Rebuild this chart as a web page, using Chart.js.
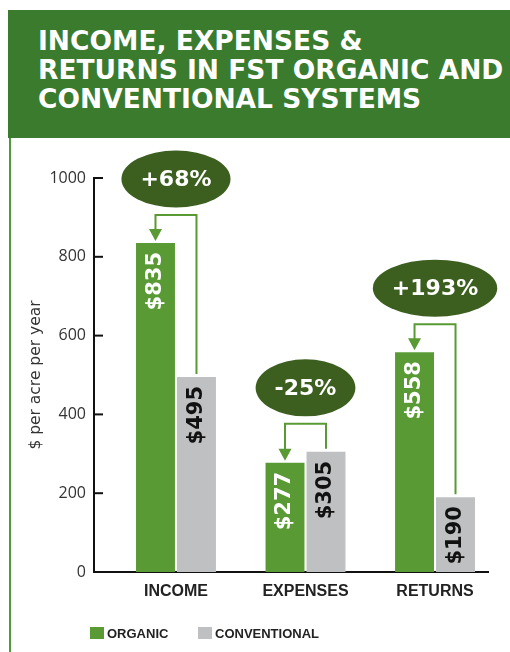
<!DOCTYPE html>
<html>
<head>
<meta charset="utf-8">
<script src="https://cdn.jsdelivr.net/npm/chart.js@4.4.1/dist/chart.umd.min.js"></script>
<style>
  html, body { margin: 0; padding: 0; background: #fff; }
  body { width: 510px; height: 652px; position: relative; overflow: hidden; }
  #header {
    position: absolute; left: 8px; top: 10px; width: 502px; height: 128px;
    background: #3a7b2e; color: #fff; z-index: 2; box-sizing: border-box;
    padding: 16px 0 0 30px;
    font: bold 26.5px "DejaVu Sans", sans-serif; line-height: 29px;
  }
  #edge { position: absolute; left: 9px; top: 138px; width: 2px; height: 514px; background: #4f9a3c; z-index: 2; }
  #wrap { position: absolute; left: 0; top: 0; width: 510px; height: 652px; }
  .legend { position: absolute; top: 626px; height: 16px; z-index: 2;
    font: bold 13px "Liberation Sans", Arial, sans-serif; color: #222; line-height: 16px; }
  .legend i { display: inline-block; width: 14px; height: 12px; vertical-align: -1px; margin-right: 3px; }
</style>
</head>
<body>
<div id="header">INCOME, EXPENSES &amp;<br>RETURNS IN FST ORGANIC AND<br>CONVENTIONAL SYSTEMS</div>
<div id="edge"></div>
<div class="legend" style="left:90px"><i style="background:#5a9a34"></i>ORGANIC</div>
<div class="legend" style="left:198px"><i style="background:#bfc0c2"></i>CONVENTIONAL</div>
<div id="wrap"><canvas id="chart"></canvas></div>
<script>
// ─── Data ─────────────────────────────────────────
const categories = ['INCOME', 'EXPENSES', 'RETURNS'];
const organic = [835, 277, 558];
const conventional = [495, 305, 190];
const changeLabels = ['+68%', '-25%', '+193%'];
const yTicks = [0, 200, 400, 600, 800, 1000];

const GREEN = '#5a9a34';
const GRAY = '#bfc0c2';
const DARK = '#3c5f20';

// ─── Labels, brackets, bubbles ────────────────────
const decorations = {
  id: 'decorations',
  afterDatasetsDraw(chart) {
    const ctx = chart.ctx;
    const area = chart.chartArea;
    const y = chart.scales.y;

    // inward tick marks on the y axis
    ctx.save();
    ctx.strokeStyle = '#111';
    ctx.lineWidth = 2;
    y.ticks.forEach(t => {
      const py = y.getPixelForValue(t.value);
      ctx.beginPath();
      ctx.moveTo(area.left, py);
      ctx.lineTo(area.left + 9, py);
      ctx.stroke();
    });
    ctx.restore();

    // rotated value labels inside bars
    chart.data.datasets.forEach((ds, di) => {
      const meta = chart.getDatasetMeta(di);
      meta.data.forEach((bar, i) => {
        ctx.save();
        ctx.translate(bar.x, bar.y + 9);
        ctx.rotate(-Math.PI / 2);
        ctx.font = 'bold 21px "DejaVu Sans", sans-serif';
        ctx.fillStyle = di === 0 ? '#fff' : '#111';
        ctx.textAlign = 'right';
        ctx.textBaseline = 'middle';
        ctx.fillText('$' + ds.data[i].y, 0, 0);
        ctx.restore();
      });
    });

    // brackets with arrows and change bubbles
    const orgMeta = chart.getDatasetMeta(0);
    const conMeta = chart.getDatasetMeta(1);
    categories.forEach((c, i) => {
      const o = orgMeta.data[i];
      const k = conMeta.data[i];
      const level = Math.min(o.y, k.y) - 28;

      ctx.save();
      ctx.strokeStyle = GREEN;
      ctx.fillStyle = GREEN;
      ctx.lineWidth = 2;
      ctx.beginPath();
      ctx.moveTo(k.x, k.y - 3);
      ctx.lineTo(k.x, level);
      ctx.lineTo(o.x, level);
      ctx.lineTo(o.x, o.y - 13);
      ctx.stroke();
      ctx.beginPath();
      ctx.moveTo(o.x - 6.5, o.y - 14);
      ctx.lineTo(o.x + 6.5, o.y - 14);
      ctx.lineTo(o.x, o.y - 2);
      ctx.closePath();
      ctx.fill();

      ctx.font = 'bold 22px "DejaVu Sans", sans-serif';
      const tw = ctx.measureText(changeLabels[i]).width;
      const cx = (o.x + k.x) / 2;
      const cy = level - 36;
      ctx.fillStyle = DARK;
      ctx.beginPath();
      ctx.ellipse(cx, cy, tw / 2 + 19, 28.5, 0, 0, Math.PI * 2);
      ctx.fill();
      ctx.fillStyle = '#fff';
      ctx.textAlign = 'center';
      ctx.textBaseline = 'middle';
      ctx.fillText(changeLabels[i], cx, cy + 1);
      ctx.restore();
    });
  }
};

new Chart(document.getElementById('chart'), {
  type: 'bar',
  data: {
    datasets: [
      {
        label: 'ORGANIC',
        data: categories.map((c, i) => ({ x: i, y: organic[i] })),
        backgroundColor: GREEN,
        categoryPercentage: 0.633,
        barPercentage: 0.95,
      },
      {
        label: 'CONVENTIONAL',
        data: categories.map((c, i) => ({ x: i, y: conventional[i] })),
        backgroundColor: GRAY,
        categoryPercentage: 0.633,
        barPercentage: 0.95,
      },
    ],
  },
  options: {
    responsive: true,
    maintainAspectRatio: false,
    animation: false,
    layout: { padding: { top: 178, right: 22, left: 0, bottom: 0 } },
    plugins: {
      legend: { display: false },
      tooltip: { enabled: false },
    },
    scales: {
      x: {
        type: 'linear',
        offset: false,
        min: -0.633,
        max: 2.409,
        afterBuildTicks: (s) => { s.ticks = categories.map((c, i) => ({ value: i })); },
        afterFit: (s) => { s.height = 80; },
        grid: { display: false, drawTicks: false, offset: false },
        border: { display: true, color: '#111', width: 2 },
        ticks: {
          padding: 10,
          color: '#222',
          font: { size: 16, weight: 'bold', family: '"Liberation Sans", Arial, sans-serif' },
          callback: (v) => categories[v],
        },
      },
      y: {
        min: 0,
        max: 1000,
        afterBuildTicks: (s) => { s.ticks = yTicks.map(v => ({ value: v })); },
        afterFit: (s) => { s.width = 94; },
        grid: { display: false, drawTicks: false },
        border: { display: true, color: '#111', width: 2 },
        ticks: {
          padding: 8,
          color: '#333',
          font: { size: 16, family: '"Open Sans", sans-serif' },
          callback: (v) => String(v),
        },
        title: {
          display: true,
          text: '$ per acre per year',
          color: '#333',
          padding: { top: 27 },
          font: { size: 15.5, family: '"DejaVu Sans", sans-serif' },
        },
      },
    },
  },
  plugins: [decorations],
});
</script>
</body>
</html>
